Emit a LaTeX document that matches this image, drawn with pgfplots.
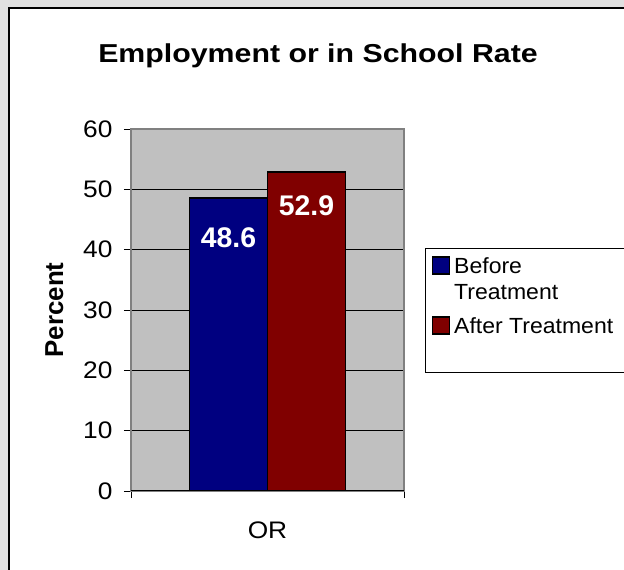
\documentclass[border=0pt]{standalone}
\usepackage{pgfplots}
\pgfplotsset{compat=1.18}
\usepackage{fontspec}
\setmainfont{Liberation Sans}
\newfontfamily\titlefont{Liberation Sans}[FakeStretch=1.17]
\newfontfamily\tickfont{Liberation Sans}[FakeStretch=1.1]
\newfontfamily\legfont{Liberation Sans}[FakeStretch=1.05]

\definecolor{navybar}{HTML}{000080}
\definecolor{maroonbar}{HTML}{800000}
\definecolor{plotgray}{HTML}{C0C0C0}
\definecolor{framegray}{HTML}{808080}
\definecolor{pagegray}{HTML}{E0E0E0}

\begin{document}
\begin{tikzpicture}
  \useasboundingbox (0,0) rectangle (624bp,570bp);
  \clip (0,0) rectangle (624bp,570bp);
  % page background and chart frame
  \fill[pagegray] (0,0) rectangle (624bp,570bp);
  \fill[white] (9bp,0) rectangle (640bp,562bp);
  \draw[black, line width=1.5bp] (9bp,-5bp) -- (9bp,562bp) -- (640bp,562bp);

  % title
  \node[anchor=base, font=\titlefont\fontsize{26}{30}\selectfont\bfseries] at (318bp,507bp)
    {Employment or in School Rate};

  % legend frame
  \draw[black, line width=0.9bp] (425bp,322bp) rectangle (660bp,198bp);

  \begin{axis}[
      at={(131bp,79bp)}, anchor=south west,
      scale only axis,
      width=273bp, height=362bp,
      xmin=-1, xmax=1,
      ymin=0, ymax=60,
      ytick={0,10,...,60},
      xtick={-1,1},
      xticklabels={},
      extra x ticks={0},
      extra x tick labels={OR},
      extra x tick style={major tick length=0pt, grid=none},
      tick align=outside,
      major tick length=7bp,
      xtick pos=bottom,
      ytick pos=left,
      tick style={black, line width=0.9bp},
      ymajorgrids,
      grid style={black, line width=0.8bp},
      axis background/.style={fill=plotgray},
      axis line style={framegray, line width=1.5bp},
      /pgf/number format/assume math mode=true,
      ticklabel style={font=\tickfont\fontsize{24}{28}\selectfont},
      yticklabel style={xshift=-8bp},
      xticklabel style={yshift=-27bp},
      ylabel={Percent},
      every axis y label/.style={at={(axis description cs:-0.249,0.5)},
        rotate=90, anchor=base, font=\fontsize{26}{30}\selectfont\bfseries},
      ybar,
      bar width=78bp,
      nodes near coords,
      every node near coord/.append style={white,
        font=\fontsize{28.5}{32}\selectfont\bfseries, anchor=center},
      legend style={at={(1.1026,0.652)}, anchor=north west, draw=none, fill=none,
        inner sep=0pt, outer sep=0pt, row sep=0pt, column sep=2bp,
        font=\legfont\fontsize{22}{26}\selectfont,
        nodes={inner sep=2bp, text height=17bp, text depth=5bp}},
      legend cell align=left,
      legend image code/.code={\draw[#1, line width=1.2bp] (0bp,-6bp) rectangle (17bp,11bp);},
    ]
    \addplot[fill=navybar, draw=black, line width=1.5bp, bar shift=-39bp,
      every node near coord/.append style={yshift=-40bp}]
      coordinates {(0,48.6)};
    \addlegendentry{Before}
    \addlegendimage{empty legend}
    \addlegendentry[text depth=13bp]{Treatment}
    \addplot[fill=maroonbar, draw=black, line width=1.5bp, bar shift=39bp,
      every node near coord/.append style={yshift=-34bp}]
      coordinates {(0,52.9)};
    \addlegendentry{After Treatment}
    \draw[black, line width=1.2bp] (rel axis cs:0,0) -- (rel axis cs:1,0);
  \end{axis}
\end{tikzpicture}
\end{document}
